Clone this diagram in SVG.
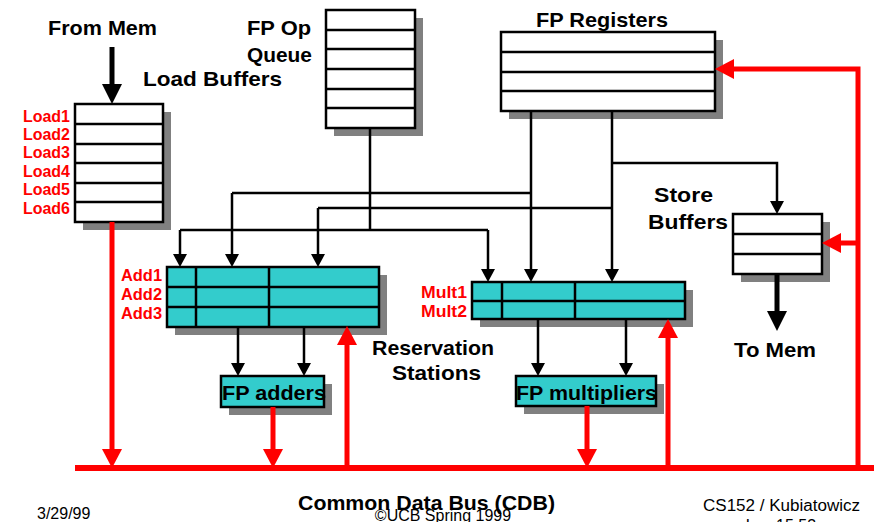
<svg xmlns="http://www.w3.org/2000/svg" width="874" height="522" viewBox="0 0 874 522">
<defs>
<style>
.box{fill:#fff;stroke:#000;stroke-width:2.5}
.rs{fill:#33CCCC;stroke:#000;stroke-width:2.5}
.sh{fill:#808080}
.ln{stroke:#000;stroke-width:2.5;fill:none}
.bk{stroke:#000;stroke-width:5;fill:none}
.rd{stroke:#FF0000;stroke-width:5;fill:none}
.t{font-family:"Liberation Sans",Arial,sans-serif;font-weight:bold;font-size:21px;fill:#000}
.tc{text-anchor:middle}
.lab{font-family:"Liberation Sans",Arial,sans-serif;font-weight:bold;font-size:16px;fill:#FF0000;text-anchor:end}
.ft{font-family:"Liberation Sans",Arial,sans-serif;font-size:16px;fill:#000}
</style>
<marker id="ah" markerUnits="userSpaceOnUse" markerWidth="16" markerHeight="16" refX="0" refY="7" orient="auto" overflow="visible"><path d="M0,0 L13,7 L0,14 Z" fill="#000"/></marker>
<marker id="ahk" markerUnits="userSpaceOnUse" markerWidth="22" markerHeight="22" refX="0" refY="10" orient="auto" overflow="visible"><path d="M0,0 L20,10 L0,20 Z" fill="#000"/></marker>
<marker id="ahr" markerUnits="userSpaceOnUse" markerWidth="22" markerHeight="22" refX="0" refY="10" orient="auto" overflow="visible"><path d="M0,0 L19,10 L0,20 Z" fill="#FF0000"/></marker>
</defs>
<rect width="874" height="522" fill="#fff"/>

<g id="load-buffers">
<rect class="sh" x="83" y="112" width="88" height="118"/>
<rect class="box" x="75" y="104" width="88" height="118"/>
<path class="ln" d="M75,124H163M75,144H163M75,163H163M75,183H163M75,202H163"/>
<text class="lab" x="70" y="122" textLength="47" lengthAdjust="spacingAndGlyphs">Load1</text>
<text class="lab" x="70" y="140" textLength="47" lengthAdjust="spacingAndGlyphs">Load2</text>
<text class="lab" x="70" y="158" textLength="47" lengthAdjust="spacingAndGlyphs">Load3</text>
<text class="lab" x="70" y="177" textLength="47" lengthAdjust="spacingAndGlyphs">Load4</text>
<text class="lab" x="70" y="195" textLength="47" lengthAdjust="spacingAndGlyphs">Load5</text>
<text class="lab" x="70" y="214" textLength="47" lengthAdjust="spacingAndGlyphs">Load6</text>
<text class="t" x="143" y="86" textLength="139" lengthAdjust="spacingAndGlyphs">Load Buffers</text>
</g>

<g id="from-mem"><text class="t" x="48" y="35" textLength="109" lengthAdjust="spacingAndGlyphs">From Mem</text></g>

<g id="fp-op-queue">
<rect class="sh" x="334" y="18" width="89" height="118"/>
<rect class="box" x="326" y="10" width="89" height="118"/>
<path class="ln" d="M326,30H415M326,49H415M326,69H415M326,89H415M326,108H415"/>
<text class="t" x="247" y="35" textLength="64" lengthAdjust="spacingAndGlyphs">FP Op</text>
<text class="t" x="247" y="62" textLength="65" lengthAdjust="spacingAndGlyphs">Queue</text>
</g>

<g id="fp-registers">
<rect class="sh" x="509" y="40" width="214" height="79"/>
<rect class="box" x="501" y="32" width="214" height="79"/>
<path class="ln" d="M501,52H715M501,72H715M501,91H715"/>
<text class="t" x="536" y="27" textLength="132" lengthAdjust="spacingAndGlyphs">FP Registers</text>
</g>

<g id="store-buffers">
<rect class="sh" x="741" y="222" width="89" height="60"/>
<rect class="box" x="733" y="214" width="89" height="60"/>
<path class="ln" d="M733,234H822M733,254H822"/>
<text class="t" x="654" y="202" textLength="59" lengthAdjust="spacingAndGlyphs">Store</text>
<text class="t" x="648" y="229" textLength="80" lengthAdjust="spacingAndGlyphs">Buffers</text>
</g>

<g id="to-mem"><text class="t" x="734" y="357" textLength="82" lengthAdjust="spacingAndGlyphs">To Mem</text></g>

<g id="add-rs">
<rect class="sh" x="175" y="275" width="212" height="60"/>
<rect class="rs" x="167" y="267" width="212" height="60"/>
<path class="ln" d="M167,287H379M167,307H379M196,267V327M269,267V327"/>
<text class="lab" x="162" y="281" textLength="41" lengthAdjust="spacingAndGlyphs">Add1</text>
<text class="lab" x="162" y="300" textLength="41" lengthAdjust="spacingAndGlyphs">Add2</text>
<text class="lab" x="162" y="319" textLength="41" lengthAdjust="spacingAndGlyphs">Add3</text>
</g>

<g id="mult-rs">
<rect class="sh" x="480" y="290" width="213" height="37"/>
<rect class="rs" x="472" y="282" width="213" height="37"/>
<path class="ln" d="M472,301H685M502,282V319M575,282V319"/>
<text class="lab" x="467" y="298" textLength="46" lengthAdjust="spacingAndGlyphs">Mult1</text>
<text class="lab" x="467" y="317" textLength="46" lengthAdjust="spacingAndGlyphs">Mult2</text>
</g>

<g id="rs-label">
<text class="t" x="372" y="355" textLength="122" lengthAdjust="spacingAndGlyphs">Reservation</text>
<text class="t" x="392" y="380" textLength="89" lengthAdjust="spacingAndGlyphs">Stations</text>
</g>

<g id="fp-adders">
<rect class="sh" x="229" y="384" width="103" height="31"/>
<rect class="rs" x="221" y="376" width="103" height="31"/>
<text class="t" x="222" y="400" textLength="104" lengthAdjust="spacingAndGlyphs">FP adders</text>
</g>

<g id="fp-multipliers">
<rect class="sh" x="524" y="384" width="140" height="30"/>
<rect class="rs" x="516" y="376" width="140" height="30"/>
<text class="t" x="516" y="400" textLength="141" lengthAdjust="spacingAndGlyphs">FP multipliers</text>
</g>

<g id="connectors">
<path class="ln" d="M370,128V230"/>
<path class="ln" d="M180,230H488"/>
<path class="ln" d="M180,230V254" marker-end="url(#ah)"/>
<path class="ln" d="M488,230V269" marker-end="url(#ah)"/>
<path class="ln" d="M232,193H531"/>
<path class="ln" d="M232,193V254" marker-end="url(#ah)"/>
<path class="ln" d="M318,208H612"/>
<path class="ln" d="M318,208V254" marker-end="url(#ah)"/>
<path class="ln" d="M531,111V269" marker-end="url(#ah)"/>
<path class="ln" d="M612,111V269" marker-end="url(#ah)"/>
<path class="ln" d="M612,163H777V201" marker-end="url(#ah)"/>
<path class="ln" d="M238,327V363" marker-end="url(#ah)"/>
<path class="ln" d="M304,327V363" marker-end="url(#ah)"/>
<path class="ln" d="M538,319V363" marker-end="url(#ah)"/>
<path class="ln" d="M626,319V363" marker-end="url(#ah)"/>
<path class="bk" d="M112,47V84" marker-end="url(#ahk)"/>
<path class="bk" d="M777,274V311" marker-end="url(#ahk)"/>
<path class="rd" d="M75,468H874" style="stroke-width:6"/>
<path class="rd" d="M112,222V449" marker-end="url(#ahr)"/>
<path class="rd" d="M273,407V449" marker-end="url(#ahr)"/>
<path class="rd" d="M587,406V449" marker-end="url(#ahr)"/>
<path class="rd" d="M347,468V345" marker-end="url(#ahr)"/>
<path class="rd" d="M668,468V338" marker-end="url(#ahr)"/>
<path class="rd" d="M858,468V69H734" marker-end="url(#ahr)"/>
<path class="rd" d="M858,243H841" marker-end="url(#ahr)"/>
</g>

<g id="footer">
<text class="ft" x="37" y="519">3/29/99</text>
<text class="ft tc" x="443" y="521">©UCB Spring 1999</text>
<text class="t" x="298" y="510" textLength="257" lengthAdjust="spacingAndGlyphs">Common Data Bus (CDB)</text>
<text class="ft" x="703" y="511" textLength="157" lengthAdjust="spacingAndGlyphs">CS152 / Kubiatowicz</text>
<text class="ft tc" x="781" y="531">Lec 15.53</text>
</g>
</svg>
